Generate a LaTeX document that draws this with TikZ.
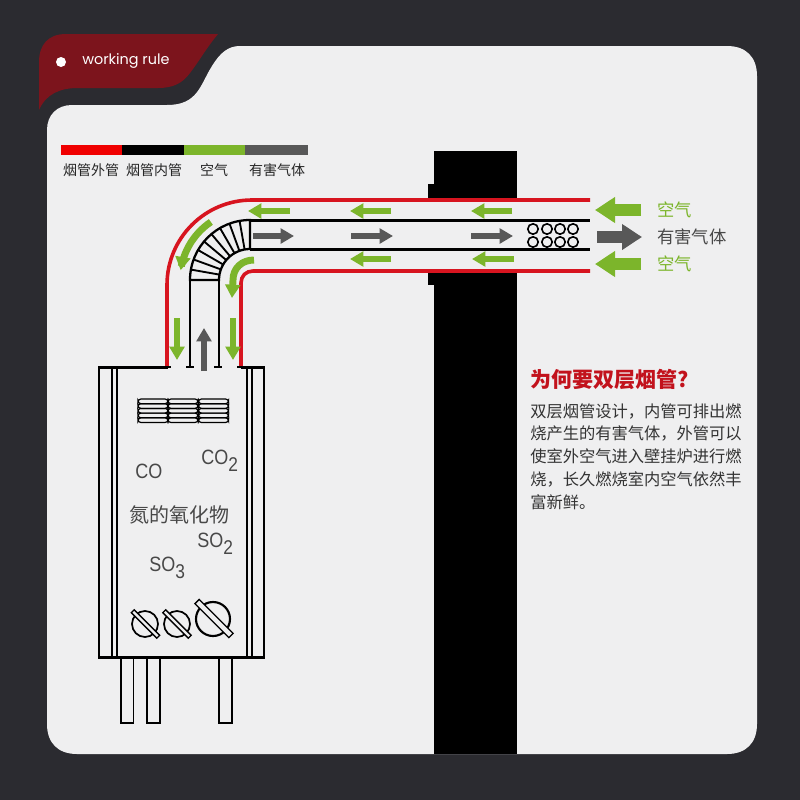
\documentclass[tikz,border=0pt]{standalone}
\usepackage{fontspec}
\setmainfont{Noto Sans CJK SC}
\newfontfamily\latinfont{Liberation Sans}
\newfontfamily\tabfont{Poppins}
\usetikzlibrary{arrows.meta}
\definecolor{bgdark}{HTML}{2B2B30}
\definecolor{panelc}{HTML}{EFEFF0}
\definecolor{tabred}{HTML}{7C141C}
\definecolor{pipered}{HTML}{D7141F}
\definecolor{legred}{HTML}{F00000}
\definecolor{airgreen}{HTML}{7CB52B}
\definecolor{gasgray}{HTML}{585858}
\definecolor{chemgray}{HTML}{484848}
\newcommand{\fsz}[1]{\fontsize{#1}{#1}\selectfont}
\newcommand{\subsc}[1]{\raisebox{-.32em}{\fontsize{13pt}{13pt}\selectfont #1}}
\newcommand{\tallchem}[1]{\scalebox{1}[1.15]{#1}}
\tikzset{
  outerpipe/.style={draw=pipered,line width=2.7pt,line cap=butt},
  innerpipe/.style={draw=black,line width=1.7pt},
  smallair/.style={airgreen,line width=5.2pt,-{Triangle[length=10pt,width=11pt]}},
  smallgas/.style={gasgray,line width=5.2pt,-{Triangle[length=10pt,width=11pt]}},
  bigair/.style={airgreen,line width=9.5pt,-{Triangle[length=15pt,width=18.5pt]}},
  biggas/.style={gasgray,line width=9.5pt,-{Triangle[length=15pt,width=18.5pt]}},
  legendlabel/.style={text=black!85,font=\fsz{10.5pt},inner sep=0pt},
  chem/.style={text=chemgray,font=\latinfont\fsz{13.5pt},inner sep=0pt},
  sidelabel/.style={font=\fsz{13pt},inner sep=0pt,anchor=west},
  boxline/.style={draw=black,line width=1.8pt},
  thinbox/.style={draw=black,line width=0.9pt},
  slot/.style={draw=black,fill=panelc,line width=1pt},
}
\begin{document}
\begin{tikzpicture}[x=0.75pt,y=-0.75pt]
\useasboundingbox (0,0) rectangle (800,800);
\fill[bgdark] (0,0) rectangle (800,800);
% panel
\fill[panelc] (47,130) .. controls (47,115) and (57,105) .. (72,105) -- (167,105)
  .. controls (198,105) and (200,85) .. (212,66) .. controls (220,53) and (228,46) .. (240,46)
  -- (727,46) .. controls (746,46) and (757,57) .. (757,76) -- (757,724)
  .. controls (757,743) and (746,754) .. (727,754) -- (77,754)
  .. controls (58,754) and (47,743) .. (47,724) -- cycle;
% tab
\fill[tabred] (39,110) -- (39,62) .. controls (39,45) and (48,34) .. (66,34) -- (218,34)
  .. controls (205,50) and (200,60) .. (190,73) .. controls (182,84) and (172,88) .. (158,88)
  -- (78,88) .. controls (60,88) and (46,94) .. (39,110) -- cycle;
\fill[white] (61,62) circle (5);
\node[text=white,font=\tabfont\fsz{10.8pt},inner sep=0pt,anchor=west] (tabtitle) at (82,61) {working rule};
% legend
\fill[legred] (61,145) rectangle (122,155);
\fill[black] (122,145) rectangle (184,155);
\fill[airgreen] (184,145) rectangle (245,155);
\fill[gasgray] (245,145) rectangle (308,155);
\node[legendlabel] (leg1) at (91,170) {烟管外管};
\node[legendlabel] (leg2) at (154,170) {烟管内管};
\node[legendlabel] (leg3) at (214,170) {空气};
\node[legendlabel] (leg4) at (277,170) {有害气体};
% wall
\fill[black] (434,151) rectangle (517,754);
\fill[black] (428,184) rectangle (434,285);
\fill[panelc] (420,200) rectangle (520,270);
% outer pipe
\draw[outerpipe] (167,367) -- (167,285) .. controls (167,238) and (205,200) .. (252,200) -- (590,200);
\draw[outerpipe] (241,367) -- (241,283) .. controls (241,276) and (246,271) .. (253,271) -- (590,271);
% inner pipe
\draw[innerpipe] (190,367) -- (190,280) (219,367) -- (219,280);
\draw[innerpipe] (250,220.5) -- (590,220.5) (250,249.5) -- (590,249.5);
\draw[innerpipe] (190,280) .. controls (190,246.9) and (216.9,220) .. (250,220) -- (250,249) .. controls (232.9,249) and (219,262.9) .. (219,280) -- cycle;
\foreach \a in {100,110,120,130,140,150,160,170}
  \draw[draw=black,line width=1.4pt] ({250+31*cos(\a)},{280-31*sin(\a)}) -- ({250+60*cos(\a)},{280-60*sin(\a)});
% ticks
\draw[innerpipe] (186,367) -- (194,367) (214,367) -- (222,367);
\draw[innerpipe] (159,367) -- (171,367) (237,367) -- (247,367);
% circles
\foreach \cx in {533,547,560,573} \foreach \cy in {229,242}
  \draw[draw=black,line width=1.2pt] (\cx,\cy) circle (5.2);
% arrows
\draw[smallair] (290,211) -- (248,211);
\draw[smallair] (391,211) -- (350,211);
\draw[smallair] (512,211) -- (471,211);
\draw[smallair] (391,259) -- (350,259);
\draw[smallair] (514,259) -- (472,259);
\draw[smallgas] (253,236) -- (294,236);
\draw[smallgas] (351,236) -- (393,236);
\draw[smallgas] (471,236) -- (513,236);
\draw[smallair] plot[domain=124:172,samples=15] ({250+70*cos(\x)},{280-70*sin(\x)});
\draw[smallair] (254,260) .. controls (242,260) and (233,268) .. (233,280) -- (232,298);
\draw[smallair] (177,318) -- (177,360);
\draw[smallair] (233,318) -- (233,360);
\draw[smallgas] (204,371) -- (204,328);
\draw[bigair] (641,210) -- (595,210);
\draw[bigair] (641,264) -- (595,264);
\draw[biggas] (597,237) -- (642,237);
\node[sidelabel,text=airgreen] (air1) at (657,210) {空气};
\node[sidelabel,text=chemgray] (gas) at (657,237) {有害气体};
\node[sidelabel,text=airgreen] (air2) at (657,264) {空气};
% boiler
\draw[boxline] (168,367.5) -- (99,367.5) -- (99,657.5) -- (264,657.5) -- (264,367.5) -- (241,367.5);
\draw[thinbox] (112,367.5) -- (112,657.5) (252,367.5) -- (252,657.5);
\draw[draw=black,line width=1.3pt] (117,367.5) -- (117,657.5) (247,367.5) -- (247,657.5);
\foreach \lx/\rx in {121/133.5,147/160,219/232}
  \draw[thinbox] (\lx,658) -- (\lx,723) -- (\rx,723) -- (\rx,658);
% coil
\foreach \cx in {138,168,198.5} \foreach \row in {0,1,2,3,4}
  \draw[draw=black,line width=0.9pt,rounded corners=2.2pt] (\cx,{399+\row*4.7}) rectangle ({\cx+30},{399+(\row+1)*4.7});
% chemical labels
\node[chem,anchor=west] (co) at (135,471) {\tallchem{CO}};
\node[chem,anchor=west] (co2) at (201,461) {\tallchem{CO\subsc{2}}};
\node[text=chemgray,font=\fsz{15pt},inner sep=0pt] (nox) at (179.5,515) {氮的氧化物};
\node[chem,anchor=west] (so2) at (197,544) {\tallchem{SO\subsc{2}}};
\node[chem,anchor=west] (so3) at (149,568) {\tallchem{SO\subsc{3}}};
% screws
\draw[draw=black,line width=1.3pt] (145,624) circle (13);
\draw[slot,rotate around={-45:(145.5,624)}] (127.5,622) rectangle (163.5,626);
\draw[draw=black,line width=1.3pt] (177,624) circle (13);
\draw[slot,rotate around={-45:(177,624)}] (159,622) rectangle (195,626);
\draw[draw=black,line width=1.6pt] (213,619) circle (17);
\draw[slot,rotate around={-45:(214,618.5)}] (190,615.5) rectangle (238,621.5);
% text block
\node[text=pipered!90!black,font=\bfseries\fsz{15.8pt},inner sep=0pt,anchor=west] (head) at (530,380) {为何要双层烟管?};
\node[text=black!80,font=\fontsize{12.2pt}{17.2pt}\selectfont,inner sep=0pt,anchor=north west,align=left] (body) at (530,403)
 {双层烟管设计，内管可排出燃\\烧产生的有害气体，外管可以\\使室外空气进入壁挂炉进行燃\\烧，长久燃烧室内空气依然丰\\富新鲜。};
\end{tikzpicture}
\end{document}
